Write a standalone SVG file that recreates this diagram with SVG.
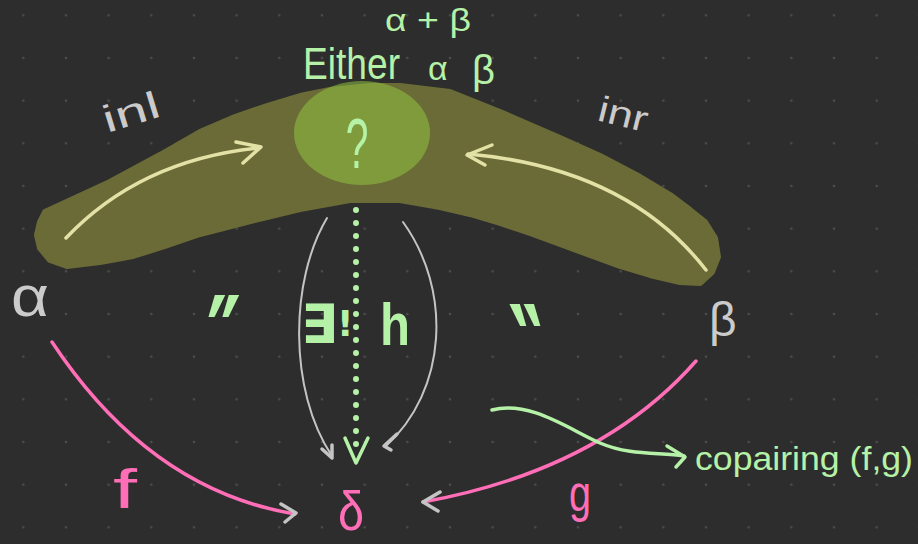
<svg xmlns="http://www.w3.org/2000/svg" width="918" height="544" viewBox="0 0 918 544">
<defs>
<pattern id="dots" x="23.3" y="15.3" width="42.67" height="42.67" patternUnits="userSpaceOnUse">
<circle cx="0" cy="0" r="1.3" fill="#4c4c4c"/><circle cx="42.67" cy="0" r="1.3" fill="#4c4c4c"/><circle cx="0" cy="42.67" r="1.3" fill="#4c4c4c"/><circle cx="42.67" cy="42.67" r="1.3" fill="#4c4c4c"/>
</pattern>
<style>
.hand{font-family:"Liberation Sans","DejaVu Sans",sans-serif}
.green{fill:#b5f2a8}
.pink{fill:#ff6eb6}
.grey{fill:#cbcbcb}
.cream{fill:none;stroke:#e3e1a6;stroke-width:3.5;stroke-linecap:round;stroke-linejoin:round}
.garc{fill:none;stroke:#c4c4c4;stroke-width:2;stroke-linecap:round;stroke-linejoin:round}
.ghead{fill:none;stroke:#c4c4c4;stroke-width:3.5;stroke-linecap:round;stroke-linejoin:round}
.pk{fill:none;stroke:#ff6eb6;stroke-width:3.5;stroke-linecap:round}
.gr{fill:none;stroke:#b5f2a8;stroke-width:3.5;stroke-linecap:round;stroke-linejoin:round}
</style>
</defs>
<rect width="918" height="544" fill="#2d2d2d"/>
<rect width="918" height="544" fill="url(#dots)"/>

<g id="blob">
<path d="M45,212 L110,182 L160,155 L200,132 L235,117 L267,106 L300,96 L330,90 L370,86 L400,86 L450,92 L500,112 L560,138 L600,156 L640,177 L670,195 L690,210 L705,222 L715,238 L718,257 L712,272 L700,283 L680,282 L650,275 L620,266 L590,255 L560,244 L530,233 L500,223 L470,214 L440,207 L400,200 L350,200 L300,209 L267,217 L235,225 L200,234 L165,246 L133,256 L100,262 L67,266 L50,260 L40,248 L37,235 L40,222 Z" fill="#6b6b37" stroke="#6b6b37" stroke-width="6" stroke-linejoin="round"/>
<ellipse cx="362" cy="133" rx="68" ry="52" fill="#90c23f" fill-opacity="0.55"/>
</g>

<g id="connectors">
<path class="cream" d="M66,238 Q140,160 258,148"/>
<polyline class="cream" points="236,142 261,147 243,163"/>
<path class="cream" d="M706,270 Q627,168 468,154"/>
<polyline class="cream" points="492,145 467,155 485,165"/>
<path class="garc" d="M327,218 C290,280 288,390 332,456"/>
<polyline class="ghead" points="322,449 332,458 332,445"/>
<path class="garc" d="M403,222 C452,290 448,390 385,447"/>
<polyline class="ghead" points="397,434 384,446 391,450"/>
<line x1="356" y1="210" x2="356" y2="445" stroke="#b5f2a8" stroke-width="6" stroke-linecap="round" stroke-dasharray="0 13"/>
<polyline class="gr" points="345,438 356,463 368,438"/>
<path class="pk" d="M52,342 Q150,490 295,514"/>
<polyline class="ghead" points="281,504 296,513 285,522"/>
<path class="pk" d="M696,361 Q600,470 423,502"/>
<polyline class="ghead" points="440,492 423,502 438,511"/>
<path class="gr" d="M492,410 C530,400 570,430 600,443 S660,452 684,456" stroke-width="3"/>
<polyline class="gr" points="667,446 685,457 676,467" stroke-width="3"/>
</g>

<g id="node-sum">
<text class="hand green" x="385" y="31" font-size="32" textLength="86" lengthAdjust="spacingAndGlyphs">α + β</text>
<text class="hand green" x="303" y="79" font-size="44" textLength="97" lengthAdjust="spacingAndGlyphs">Either</text>
<text class="hand green" x="428" y="80" font-size="34">α</text>
<text class="hand green" x="472" y="84" font-size="40">β</text>
<text class="hand green" font-size="48" text-anchor="middle" transform="translate(357,168) scale(0.85,1.45)">?</text>
</g>
<g id="label-inl"><text class="hand grey" x="0" y="0" font-size="38" textLength="58" lengthAdjust="spacingAndGlyphs" transform="translate(107,133) rotate(-17)">inl</text></g>
<g id="label-inr"><text class="hand grey" x="0" y="0" font-size="36" textLength="50" lengthAdjust="spacingAndGlyphs" transform="translate(596,120) rotate(14)">inr</text></g>
<g id="node-alpha"><text class="hand grey" x="11" y="316" font-size="58" textLength="38" lengthAdjust="spacingAndGlyphs">α</text></g>
<g id="node-beta"><text class="hand grey" x="709" y="336" font-size="48">β</text></g>
<g id="node-delta"><text class="hand pink" x="338" y="530" font-size="56" textLength="26" lengthAdjust="spacingAndGlyphs">δ</text></g>
<g id="label-f"><text class="hand pink" x="113" y="508" font-size="56" textLength="24" lengthAdjust="spacingAndGlyphs">f</text></g>
<g id="label-g"><text class="hand pink" x="569" y="511" font-size="52" textLength="22" lengthAdjust="spacingAndGlyphs">g</text></g>
<g id="label-h">
<text x="301" y="343" font-family="DejaVu Sans" font-weight="bold" font-size="54" class="green">∃</text>
<text x="337" y="336" font-family="DejaVu Sans" font-weight="bold" font-size="36" class="green">!</text>
<text x="380" y="345" font-family="Liberation Sans" font-weight="bold" font-size="60" class="green" textLength="30" lengthAdjust="spacingAndGlyphs">h</text>
</g>
<g id="ditto">
<text x="0" y="0" font-family="DejaVu Sans" font-weight="bold" font-size="76" class="green" transform="translate(207,383) scale(1,1.6)">″</text>
<text x="0" y="0" font-family="DejaVu Sans" font-weight="bold" font-size="76" class="green" transform="translate(508,392) scale(1,1.6)">‶</text>
</g>
<g id="label-copairing"><text class="hand green" x="695" y="470" font-size="34" textLength="218" lengthAdjust="spacingAndGlyphs">copairing (f,g)</text></g>
</svg>
